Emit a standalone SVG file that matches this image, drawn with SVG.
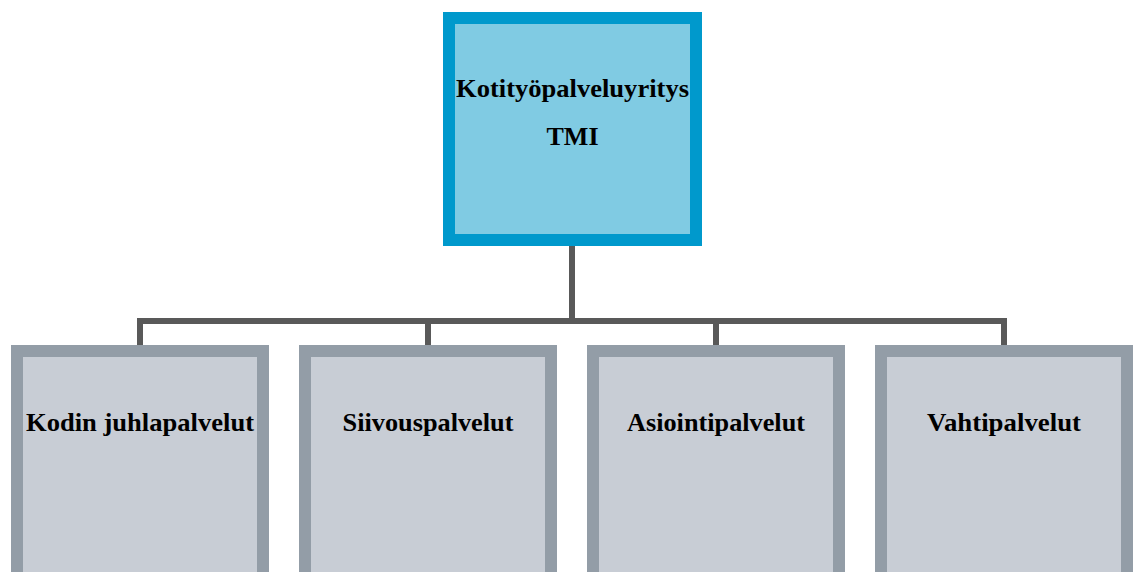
<svg xmlns="http://www.w3.org/2000/svg" width="1133" height="572" viewBox="0 0 1133 572">
<style>
.top{fill:#80CBE3;stroke:#0099CC;stroke-width:12}
.sub{fill:#C8CDD5;stroke:#939DA7;stroke-width:12}
.lbl{font-family:'Liberation Serif','DejaVu Serif',serif;font-weight:bold;font-size:25px;fill:#000;text-anchor:middle}
.conn{fill:none;stroke:#595959;stroke-width:6}
</style>
<rect width="1133" height="572" fill="#fff"/>
<g id="connectors">
<path class="conn" d="M572 246V321"/>
<path class="conn" d="M140 345V321H1004V345"/>
<path class="conn" d="M428 321V345"/>
<path class="conn" d="M716 321V345"/>
</g>
<g id="node-root">
<rect class="top" x="449" y="18" width="247" height="222"/>
<text class="lbl" x="572.5" y="97" textLength="233" lengthAdjust="spacingAndGlyphs">Kotityöpalveluyritys</text>
<text class="lbl" x="572.5" y="145" textLength="52" lengthAdjust="spacingAndGlyphs">TMI</text>
</g>
<g id="node-kodin">
<rect class="sub" x="17" y="351" width="246" height="230"/>
<text class="lbl" x="140" y="431" textLength="228" lengthAdjust="spacingAndGlyphs">Kodin juhlapalvelut</text>
</g>
<g id="node-siivous">
<rect class="sub" x="305" y="351" width="246" height="230"/>
<text class="lbl" x="428" y="431" textLength="171" lengthAdjust="spacingAndGlyphs">Siivouspalvelut</text>
</g>
<g id="node-asiointi">
<rect class="sub" x="593" y="351" width="246" height="230"/>
<text class="lbl" x="716" y="431" textLength="178" lengthAdjust="spacingAndGlyphs">Asiointipalvelut</text>
</g>
<g id="node-vahti">
<rect class="sub" x="881" y="351" width="246" height="230"/>
<text class="lbl" x="1004" y="431" textLength="154" lengthAdjust="spacingAndGlyphs">Vahtipalvelut</text>
</g>
</svg>
